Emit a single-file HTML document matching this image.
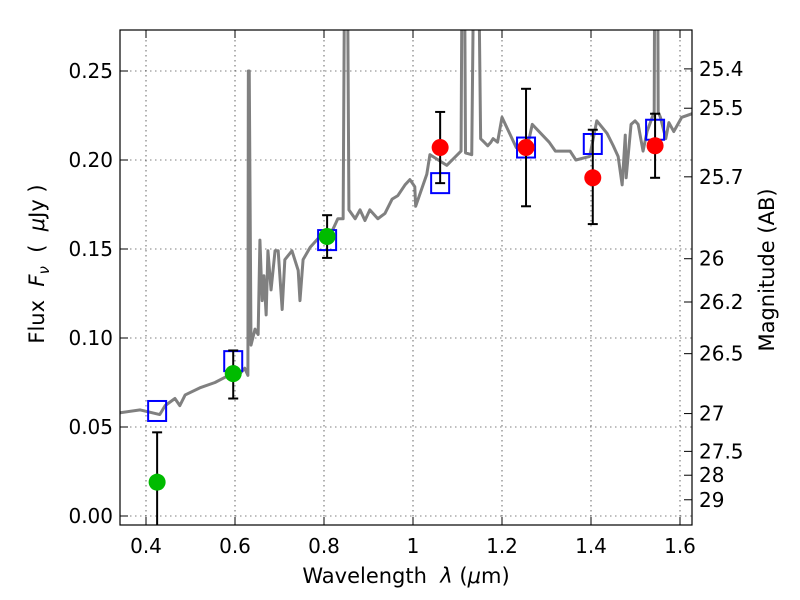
<!DOCTYPE html>
<html><head><meta charset="utf-8"><style>
body{margin:0;background:#fff;}
svg{display:block;font-family:"DejaVu Sans","Liberation Sans",sans-serif;}
</style></head><body>
<svg id="chart" width="800" height="600" viewBox="0 0 800 600">
<defs><clipPath id="clip"><rect x="120" y="30" width="572" height="495"/></clipPath></defs>
<rect width="800" height="600" fill="#fff"/>
<g id="grid"></g>
<g id="spec" clip-path="url(#clip)"></g>
<g id="marks" clip-path="url(#clip)"></g>
<rect x="120" y="30" width="572" height="495" fill="none" stroke="#000" stroke-width="1.2"/>
<g id="axes"></g>
<text x="406" y="583" font-size="21" text-anchor="middle">Wavelength&#160; <tspan font-style="italic">λ</tspan> (<tspan font-style="italic">μ</tspan>m)</text>
<text transform="translate(44,264) rotate(-90)" font-size="21" text-anchor="middle">Flux&#160; <tspan font-style="italic">F</tspan><tspan font-style="italic" font-size="15" dy="5">ν</tspan><tspan dy="-5">&#160;&#160;(&#160;&#160;</tspan><tspan font-style="italic">μ</tspan>Jy )</text>
<text transform="translate(774,270) rotate(-90)" font-size="21" text-anchor="middle">Magnitude (AB)</text>
</svg>
<script>
const xTicks=[0.4,0.6,0.8,1.0,1.2,1.4,1.6];
const xTickLabels=["0.4","0.6","0.8","1","1.2","1.4","1.6"];
const yTicks=[0,0.05,0.10,0.15,0.20,0.25];
const yTickLabels=["0.00","0.05","0.10","0.15","0.20","0.25"];
const magTicks=[25.4,25.5,25.7,26,26.2,26.5,27,27.5,28,29];
const magLabels=["25.4","25.5","25.7","26","26.2","26.5","27","27.5","28","29"];
const specWave=[0.342,0.387,0.431,0.443,0.465,0.476,0.488,0.521,0.555,0.578,0.593,0.611,0.622,0.629,0.630,0.632,0.636,0.645,0.652,0.656,0.661,0.665,0.670,0.674,0.681,0.690,0.697,0.706,0.712,0.728,0.742,0.746,0.753,0.769,0.787,0.802,0.820,0.831,0.843,0.846,0.853,0.856,0.870,0.881,0.892,0.903,0.921,0.937,0.953,0.966,0.982,0.993,1.004,1.006,1.031,1.038,1.076,1.108,1.110,1.116,1.118,1.132,1.136,1.148,1.152,1.160,1.168,1.175,1.180,1.190,1.200,1.232,1.261,1.268,1.306,1.320,1.353,1.366,1.397,1.413,1.436,1.450,1.461,1.470,1.477,1.479,1.490,1.499,1.506,1.517,1.526,1.542,1.543,1.550,1.551,1.556,1.568,1.575,1.586,1.604,1.627];
const specFlux=[0.058,0.0596,0.057,0.062,0.066,0.062,0.068,0.072,0.075,0.078,0.079,0.080,0.083,0.079,0.25,0.25,0.096,0.105,0.102,0.155,0.121,0.135,0.113,0.149,0.127,0.149,0.149,0.116,0.144,0.149,0.138,0.121,0.144,0.151,0.156,0.158,0.161,0.167,0.167,0.30,0.30,0.172,0.167,0.172,0.166,0.172,0.167,0.170,0.178,0.180,0.186,0.189,0.185,0.174,0.192,0.203,0.197,0.205,0.30,0.30,0.204,0.203,0.30,0.30,0.212,0.210,0.208,0.210,0.212,0.210,0.224,0.207,0.212,0.220,0.210,0.205,0.205,0.200,0.202,0.222,0.215,0.208,0.202,0.186,0.214,0.190,0.220,0.222,0.220,0.205,0.216,0.227,0.30,0.30,0.227,0.224,0.212,0.221,0.216,0.224,0.226];
const photWave=[0.425,0.596,0.807,1.061,1.254,1.404,1.544];
const photFlux=[0.019,0.080,0.157,0.207,0.207,0.190,0.208];
const errLow=[-0.02,0.066,0.145,0.187,0.174,0.164,0.190];
const errHigh=[0.047,0.093,0.169,0.227,0.240,0.217,0.226];
const photColor=["#00bb00","#00bb00","#00bb00","#ff0000","#ff0000","#ff0000","#ff0000"];
const modelFlux=[0.059,0.087,0.155,0.187,0.207,0.209,0.217];
const NS="http://www.w3.org/2000/svg";
const X=v=>146+(v-0.4)*445;
const Y=v=>516-v*1780;
const M=m=>Y(Math.pow(10,(23.9-m)/2.5));
function mk(t,a,p){const e=document.createElementNS(NS,t);for(const k in a)e.setAttribute(k,a[k]);p.appendChild(e);return e;}
const grid=document.getElementById('grid'),axes=document.getElementById('axes');
xTicks.forEach((t,i)=>{const x=X(t);
 const g=mk('line',{x1:x,x2:x,y1:30,y2:525,stroke:'#000','stroke-width':0.6,'stroke-dasharray':'1.5,3.5'},grid);
 
 mk('line',{x1:x,x2:x,y1:525,y2:517,stroke:'#000'},axes);mk('line',{x1:x,x2:x,y1:30,y2:38,stroke:'#000'},axes);
 const l=mk('text',{x:x,y:553,'font-size':20,'text-anchor':'middle'},axes);l.textContent=xTickLabels[i];
 });
yTicks.forEach((t,i)=>{const y=Y(t);
 const g=mk('line',{x1:120,x2:692,y1:y,y2:y,stroke:'#000','stroke-width':0.6,'stroke-dasharray':'1.5,3.5'},grid);
 
 mk('line',{x1:120,x2:128,y1:y,y2:y,stroke:'#000'},axes);
 const l=mk('text',{x:113,y:y+7,'font-size':20,'text-anchor':'end'},axes);l.textContent=yTickLabels[i];
 });
magTicks.forEach((m,i)=>{const y=M(m);
 mk('line',{x1:684,x2:692,y1:y,y2:y,stroke:'#000'},axes);
 const l=mk('text',{x:699,y:y+7,'font-size':20},axes);l.textContent=magLabels[i];
 });
const spec=document.getElementById('spec');
const sp=mk('polyline',{points:specWave.map((w,i)=>X(w)+','+Y(specFlux[i])).join(' '),fill:'none',stroke:'#808080','stroke-width':3,'stroke-linejoin':'round'},spec);

const marks=document.getElementById('marks');
photWave.forEach((w,i)=>{const x=X(w);
 const s=mk('rect',{x:x-9,y:Y(modelFlux[i])-10,width:18,height:20,fill:'none',stroke:'#0000ff','stroke-width':2},marks);
 
 const e=mk('g',{stroke:'#000','stroke-width':2},marks);
 
 mk('line',{x1:x,x2:x,y1:Y(errLow[i]),y2:Y(errHigh[i])},e);
 mk('line',{x1:x-5,x2:x+5,y1:Y(errLow[i]),y2:Y(errLow[i])},e);
 mk('line',{x1:x-5,x2:x+5,y1:Y(errHigh[i]),y2:Y(errHigh[i])},e);
 const c=mk('circle',{cx:x,cy:Y(photFlux[i]),r:8.5,fill:photColor[i]},marks);
 });
</script>
</body></html>
